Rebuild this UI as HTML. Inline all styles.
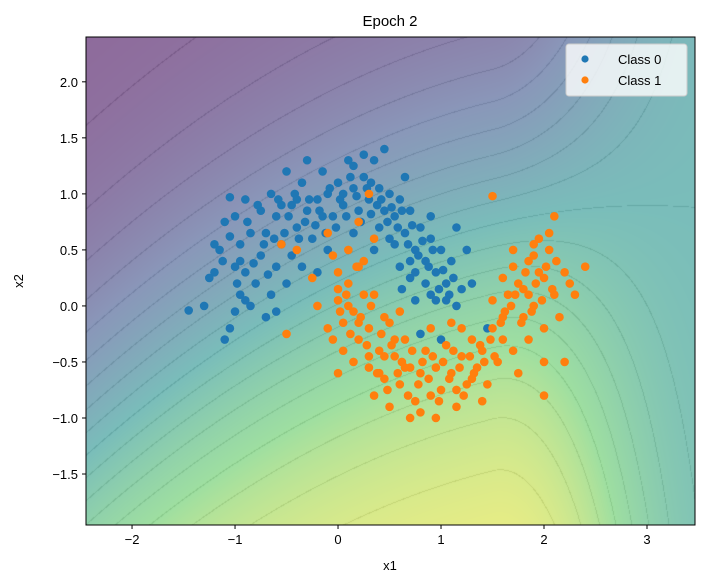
<!DOCTYPE html>
<html><head><meta charset="utf-8"><style>
body{margin:0;background:#fff;width:706px;height:585px;overflow:hidden;position:relative;font-family:"Liberation Sans",sans-serif}
#bg{position:absolute;left:86px;top:37px}
#svg{position:absolute;left:0;top:0}
</style></head><body>
<canvas id="bg" width="609" height="488"></canvas>
<svg id="svg" width="706" height="585"></svg>
<script>
const class0X=[-1.45,-1.1,-1.2,-1.15,-1.1,-1.05,-1.0,-0.95,-0.9,-0.95,-1.0,-0.85,-0.8,-0.75,-0.7,-0.75,-0.65,-0.6,-0.55,-0.6,-0.65,-0.7,-0.5,-0.45,-0.4,-0.45,-0.35,-0.3,-0.25,-0.2,-0.15,-0.1,-0.05,0,0.05,0.1,0.15,0.2,0.25,0.3,0.35,0.4,0.45,0.4,0.5,0.55,0.6,0.65,0.7,0.75,0.8,0.85,0.9,0.95,1.0,1.05,0.9,1.1,1.15,1.2,1.25,1.3,0.8,0.75,0.6,0.55,0.35,0.15,-0.1,-1.3,-1.25,-1.2,-0.9,-0.5,-0.2,1.45,1.0,0.45,-0.3,0.25,-0.6,-1.05,0.9,1.15,0.65,0.15,-0.35,-0.85,-0.95,0.7,
-1.12,-1.05,-0.98,-0.88,-0.82,-0.78,-0.72,-0.68,-0.58,-0.52,-0.48,-0.42,-0.38,-0.32,-0.28,-0.22,-0.18,-0.12,-0.08,0.02,0.08,0.12,0.18,0.22,0.28,0.32,0.38,0.42,0.48,0.52,0.58,0.62,0.68,0.72,0.78,0.82,0.88,0.92,0.98,1.02,1.08,0.85,0.95,1.05,0.7,0.62,-0.55,-0.62,-0.9,-1.0,0.05,-0.02,0.32,0.5,0.75,1.12,-0.4,-0.15];
const class0Y=[-0.04,-0.3,0.3,0.5,0.75,0.97,0.8,0.55,0.3,0.1,-0.05,0.0,0.2,0.45,0.65,0.85,1.0,0.8,0.55,0.35,0.1,-0.1,0.2,0.45,0.7,0.9,1.1,0.85,0.6,0.95,1.2,1.0,0.8,1.1,0.9,1.3,1.05,0.85,1.15,0.95,1.3,1.05,0.85,0.7,1.0,0.8,0.95,0.65,0.85,0.5,0.7,0.4,0.6,0.3,0.5,0.2,0.1,0.4,0.0,0.15,0.5,0.2,-0.25,0.05,0.35,0.55,0.5,0.65,0.5,0.0,0.25,0.55,0.95,1.2,0.3,-0.2,-0.3,1.4,1.3,1.35,-0.05,-0.2,0.8,0.7,1.15,1.25,0.35,0.65,0.4,0.25,
0.4,0.62,0.2,0.75,0.38,0.9,0.55,0.28,0.95,0.65,0.8,1.0,0.6,0.75,0.95,0.72,0.85,0.65,1.05,0.95,0.8,1.15,0.98,0.75,1.05,0.82,0.9,0.95,0.75,0.88,0.7,0.85,0.55,0.72,0.45,0.58,0.35,0.5,0.15,0.32,0.1,0.2,0.05,0.05,0.4,0.15,0.9,0.6,0.05,0.35,1.0,0.7,1.1,0.6,0.3,0.25,0.95,0.8];
const class1X=[-0.5,-0.4,-0.25,-0.2,-0.1,0.0,0.0,0.05,0.1,0.1,0.15,0.2,0.05,0.15,0.3,0.35,0.25,0.3,0.35,0.4,0.45,0.5,0.55,0.5,0.6,0.65,0.7,0.75,0.8,0.85,0.9,0.95,1.0,1.05,1.1,1.15,1.2,1.25,1.3,1.35,1.4,1.45,1.5,1.55,1.6,1.65,1.7,1.75,1.8,1.85,1.9,1.95,2.0,2.05,2.1,2.15,2.2,2.25,2.4,2.3,1.95,2.05,1.8,1.7,1.6,1.5,2.0,2.0,2.2,1.2,0.9,0.6,0.35,0.2,-0.1,0.3,-0.55,1.5,1.4,0.7,0.4,0.2,0.0,0.95,1.1,1.85,1.75,1.9,2.1,1.6,0.45,-0.05,0.25,0.8,
0.02,0.08,0.12,0.18,0.22,0.28,0.32,0.38,0.42,0.48,0.52,0.58,0.62,0.68,0.72,0.78,0.82,0.88,0.92,0.98,1.02,1.08,1.12,1.18,1.22,1.28,1.32,1.38,1.42,1.48,1.52,1.58,1.62,1.68,1.72,1.78,1.82,1.88,1.92,1.98,2.02,2.08,2.12,1.9,2.0,1.7,1.85,0.1,0.0,-0.05,0.2,0.3,0.55,0.45,0.65,1.3,1.15];
const class1Y=[-0.25,0.5,0.25,0.0,-0.2,0.3,0.05,-0.15,0.5,0.2,-0.05,-0.3,-0.4,-0.5,-0.2,0.1,0.4,-0.55,-0.8,-0.4,-0.65,-0.15,-0.45,-0.9,-0.7,-0.3,-0.55,-0.85,-0.6,-0.4,-0.8,-0.55,-0.75,-0.35,-0.6,-0.9,-0.45,-0.7,-0.3,-0.55,-0.4,-0.7,-0.2,-0.5,-0.3,0.1,-0.4,0.2,-0.1,0.4,0.0,0.3,-0.2,0.5,0.1,-0.1,0.3,0.2,0.35,0.1,0.6,0.65,0.15,0.35,-0.1,0.05,-0.5,-0.8,-0.5,-0.2,-0.2,-0.05,0.6,0.75,0.65,1.0,0.55,0.98,-0.85,-1.0,-0.6,-0.15,-0.6,-1.0,-0.15,-0.3,-0.6,0.55,0.8,0.25,-0.1,0.45,0.1,-0.95,
-0.05,0.1,-0.25,0.35,-0.1,-0.35,0.0,-0.6,-0.25,-0.75,-0.35,-0.6,-0.5,-0.8,-0.4,-0.7,-0.5,-0.65,-0.45,-0.85,-0.5,-0.65,-0.4,-0.55,-0.8,-0.45,-0.6,-0.35,-0.5,-0.3,-0.45,-0.15,-0.05,0.0,0.1,-0.15,0.3,-0.05,0.2,0.05,0.35,0.15,0.4,0.45,0.25,0.5,0.1,0.0,0.15,-0.3,0.35,-0.45,-0.3,-0.45,-0.55,-0.65,-0.75];
const xTicks=[-2,-1,0,1,2,3];
const yTicks=[-1.5,-1.0,-0.5,0.0,0.5,1.0,1.5,2.0];

const L=86,T=37,W=609,H=488,X0=-2.447,X1=3.466,Y0=-1.955,Y1=2.40;
const sx=v=>L+(v-X0)/(X1-X0)*W, sy=v=>T+(Y1-v)/(Y1-Y0)*H;

function f(x,y){let z=-2*(y-0.3)+0.6*x-0.15*(x-1)*(x-1);if(x>1.5)z*=Math.exp(-(x-1.5)*(x-1.5)/1.5);return 1/(1+Math.exp(-0.5*z));}
const vir=[[68,1,84],[59,82,139],[33,145,140],[94,201,98],[253,231,37]];
function cm(p){p=Math.max(0,Math.min(1,p))*4;const i=Math.min(3,Math.floor(p)),t=p-i;return vir[i].map((c,k)=>c+(vir[i+1][k]-c)*t);}
const ctx=document.getElementById('bg').getContext('2d');const img=ctx.createImageData(W,H);
for(let j=0;j<H;j++)for(let i=0;i<W;i++){const x=X0+i/W*(X1-X0),y=Y1-j/H*(Y1-Y0);const p=f(x,y);
const g=Math.abs(f(x+0.006,y)-p)+Math.abs(f(x,y+0.006)-p);const lv=p*20,d=Math.abs(lv-Math.round(lv));
let c=cm(p);let a=0.6;if(d<g*20*0.6){a=0.68;c=c.map(v=>v*0.88);}
const o=(j*W+i)*4;img.data[o]=c[0]*a+255*(1-a);img.data[o+1]=c[1]*a+255*(1-a);img.data[o+2]=c[2]*a+255*(1-a);img.data[o+3]=255;}
ctx.putImageData(img,0,0);

const NS='http://www.w3.org/2000/svg',svg=document.getElementById('svg');
function mk(t,at,par){const e=document.createElementNS(NS,t);for(const k in at)e.setAttribute(k,at[k]);(par||svg).appendChild(e);return e;}
const pts=mk('g',{});


for(let i=0;i<class0X.length;i++){const c=mk('circle',{cx:sx(class0X[i]),cy:sy(class0Y[i]),r:4.3,fill:'#1f77b4'},pts);

}
for(let i=0;i<class1X.length;i++){const c=mk('circle',{cx:sx(class1X[i]),cy:sy(class1Y[i]),r:4.3,fill:'#ff7f0e'},pts);

}
const fr=mk('rect',{x:L,y:T,width:W,height:H,fill:'none',stroke:'#000','stroke-width':1});


for(const v of xTicks){const x=sx(v);mk('line',{x1:x,x2:x,y1:T+H,y2:T+H+4,stroke:'#000'});
const t=mk('text',{x:x,y:T+H+19,'text-anchor':'middle','font-size':13});t.textContent=v<0?'\u2212'+(-v):v;

}
for(const v of yTicks){const y=sy(v);mk('line',{x1:L-4,x2:L,y1:y,y2:y,stroke:'#000'});
const t=mk('text',{x:L-8,y:y+5,'text-anchor':'end','font-size':13});t.textContent=(v<0?'\u2212':'')+Math.abs(v).toFixed(1);

}
</script>
<svg width="706" height="585" style="position:absolute;left:0;top:0">
<text x="390" y="26" text-anchor="middle" font-size="15" font-family="Liberation Sans">Epoch 2</text>
<text x="390" y="570" text-anchor="middle" font-size="13" font-family="Liberation Sans">x1</text>
<text x="23" y="281" text-anchor="middle" font-size="13" font-family="Liberation Sans" transform="rotate(-90 23 281)">x2</text>
<g>
<rect x="566" y="44" width="121" height="52" rx="3" fill="#fff" fill-opacity="0.8" stroke="#ccc"/>
<circle cx="585" cy="59" r="3.6" fill="#1f77b4"/>
<text x="618" y="64" font-size="13" font-family="Liberation Sans">Class 0</text>
<circle cx="585" cy="80" r="3.6" fill="#ff7f0e"/>
<text x="618" y="85" font-size="13" font-family="Liberation Sans">Class 1</text>
</g>
</svg>
</body></html>
